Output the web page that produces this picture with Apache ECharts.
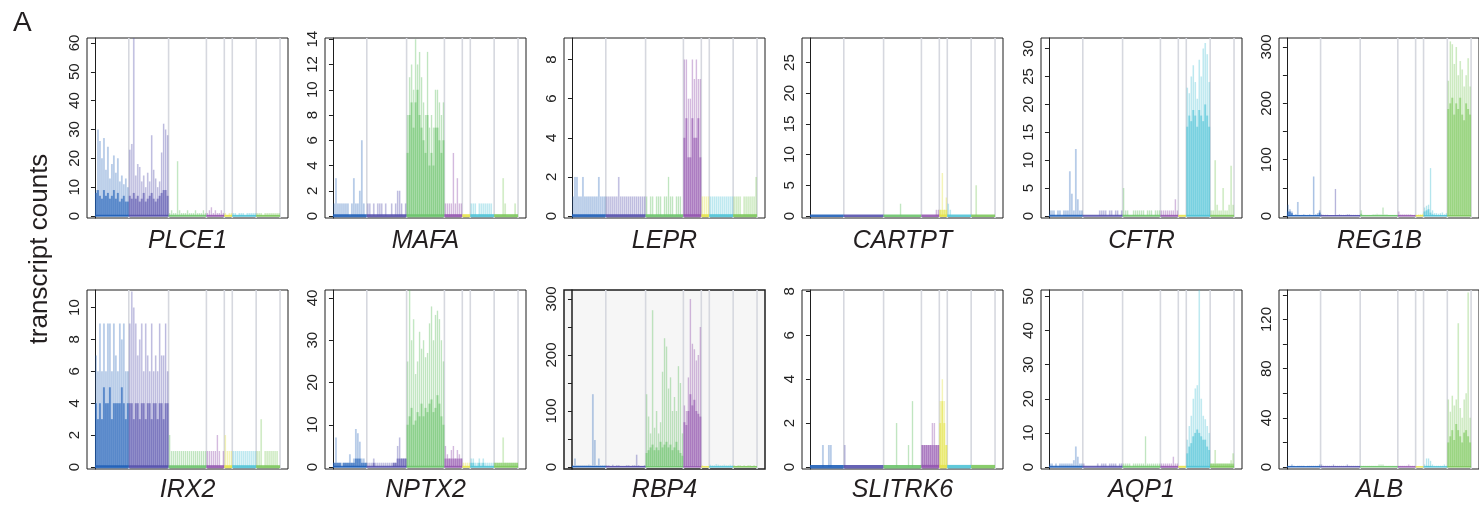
<!DOCTYPE html>
<html>
<head>
<meta charset="utf-8">
<script src="https://cdn.jsdelivr.net/npm/echarts@6/dist/echarts.min.js"></script>
<style>
  html, body { margin: 0; padding: 0; background: #fff; }
  #chart { width: 1479px; height: 506px; }
</style>
</head>
<body>
<div id="chart"></div>
<script>
// cell clusters, left to right (bins per cluster)
const CLUSTER_SIZES = [17, 20, 19, 9, 4, 12, 12];
const CLUSTER_COLORS = ['#1f5fb8', '#5551ad', '#6cc46c', '#9457b0', '#e3e34a', '#4fc3d6', '#7cc85c'];

const GENES = ['PLCE1', 'MAFA', 'LEPR', 'CARTPT', 'CFTR', 'REG1B',
               'IRX2', 'NPTX2', 'RBP4', 'SLITRK6', 'AQP1', 'ALB'];

// top of each panel's y range
const Y_MAX = [61.7, 14.1, 9.1, 29, 31.9, 316, 11.1, 41.9, 316, 8.06, 51.9, 144];

const Y_TICKS = [
  [0, 10, 20, 30, 40, 50, 60], [0, 2, 4, 6, 8, 10, 12, 14], [0, 2, 4, 6, 8],
  [0, 5, 10, 15, 20, 25], [0, 5, 10, 15, 20, 25, 30], [0, 50, 100, 150, 200, 250, 300],
  [0, 2, 4, 6, 8, 10], [0, 10, 20, 30, 40], [0, 50, 100, 150, 200, 250, 300],
  [0, 2, 4, 6, 8], [0, 10, 20, 30, 40, 50], [0, 20, 40, 60, 80, 100, 120, 140]
];
const Y_LABELS = [
  [0, 10, 20, 30, 40, 50, 60], [0, 2, 4, 6, 8, 10, 12, 14], [0, 2, 4, 6, 8],
  [0, 5, 10, 15, 20, 25], [0, 5, 10, 15, 20, 25, 30], [0, 100, 200, 300],
  [0, 2, 4, 6, 8, 10], [0, 10, 20, 30, 40], [0, 100, 200, 300],
  [0, 2, 4, 6, 8], [0, 10, 20, 30, 40, 50], [0, 40, 80, 120]
];

// per bin: highest counts (light) and dense level (darker)
const PLCE1_PEAK = [
  9, 30, 26, 20, 27, 16, 24, 13, 18, 21, 15, 20, 12, 14, 11, 13, 10,
  23, 25, 62, 14, 18, 17, 12, 14, 10, 15, 12, 28, 16, 13, 10, 12, 22, 32, 30, 28,
  1, 2, 1, 1, 19, 2, 1, 1, 1, 2, 1, 1, 1, 2, 1, 1, 1, 2, 1,
  1, 2, 3, 1, 2, 1, 1, 2, 1,
  1, 0, 1, 1,
  1, 1, 0, 1, 1, 1, 0, 1, 1, 1, 1, 1,
  1, 1, 1, 0, 1, 1, 1, 1, 1, 1, 1, 1
];
const PLCE1_CORE = [
  8, 9, 7, 6, 9, 7, 8, 6, 7, 9, 6, 8, 5, 6, 7, 5, 5,
  7, 6, 8, 6, 7, 5, 6, 8, 5, 6, 7, 8, 6, 5, 6, 7, 8, 9, 9, 7,
  0, 0, 0, 0, 0, 0, 0, 0, 0, 0, 0, 0, 0, 0, 0, 0, 0, 0, 0,
  0, 0, 0, 0, 0, 0, 0, 0, 0,
  0, 0, 0, 0,
  0, 0, 0, 0, 0, 0, 0, 0, 0, 0, 0, 0,
  0, 0, 0, 0, 0, 0, 0, 0, 0, 0, 0, 0
];
const MAFA_PEAK = [
  1, 3, 1, 1, 1, 1, 1, 1, 0, 1, 3, 1, 1, 2, 6, 1, 0,
  1, 1, 0, 1, 0, 1, 1, 1, 0, 1, 0, 0, 1, 0, 1, 2, 2, 1, 0, 1,
  8, 11, 12, 10, 14, 12, 13, 11, 9, 8, 13, 7, 8, 7, 10, 10, 9, 8, 9,
  1, 1, 1, 1, 5, 1, 3, 1, 1,
  0, 0, 0, 0,
  1, 1, 1, 0, 1, 1, 1, 1, 1, 1, 1, 0,
  0, 0, 0, 0, 3, 1, 0, 0, 0, 0, 1, 0
];
const MAFA_CORE = [
  0, 0, 0, 0, 0, 0, 0, 0, 0, 0, 0, 0, 0, 0, 0, 0, 0,
  0, 0, 0, 0, 0, 0, 0, 0, 0, 0, 0, 0, 0, 0, 0, 0, 0, 0, 0, 0,
  5, 8, 9, 7, 9, 10, 8, 7, 6, 5, 8, 4, 5, 4, 7, 7, 6, 5, 6,
  0, 0, 0, 0, 0, 0, 0, 0, 0,
  0, 0, 0, 0,
  0, 0, 0, 0, 0, 0, 0, 0, 0, 0, 0, 0,
  0, 0, 0, 0, 0, 0, 0, 0, 0, 0, 0, 0
];
const LEPR_PEAK = [
  1, 2, 2, 1, 1, 2, 1, 1, 1, 1, 1, 1, 1, 2, 1, 1, 1,
  1, 1, 1, 1, 1, 1, 2, 1, 1, 1, 1, 1, 1, 1, 1, 1, 1, 1, 1, 1,
  1, 0, 1, 1, 0, 1, 1, 1, 0, 1, 1, 2, 1, 1, 0, 1, 1, 1, 0,
  8, 8, 6, 6, 8, 7, 8, 7, 7,
  1, 1, 1, 1,
  1, 1, 1, 1, 1, 1, 1, 1, 1, 1, 1, 1,
  1, 1, 1, 1, 0, 1, 1, 1, 1, 1, 1, 2
];
const LEPR_CORE = [
  0, 0, 0, 0, 0, 0, 0, 0, 0, 0, 0, 0, 0, 0, 0, 0, 0,
  0, 0, 0, 0, 0, 0, 0, 0, 0, 0, 0, 0, 0, 0, 0, 0, 0, 0, 0, 0,
  0, 0, 0, 0, 0, 0, 0, 0, 0, 0, 0, 0, 0, 0, 0, 0, 0, 0, 0,
  4, 5, 3, 3, 5, 4, 4, 5, 3,
  0, 0, 0, 0,
  0, 0, 0, 0, 0, 0, 0, 0, 0, 0, 0, 0,
  0, 0, 0, 0, 0, 0, 0, 0, 0, 0, 0, 0
];
const CARTPT_PEAK = [
  0, 0, 0, 0, 0, 0, 0, 0, 0, 0, 0, 0, 0, 0, 0, 0, 0,
  0, 0, 0, 0, 0, 0, 0, 0, 0, 0, 0, 0, 0, 0, 0, 0, 0, 0, 0, 0,
  0, 0, 0, 0, 0, 0, 0, 0, 2, 0, 0, 0, 0, 0, 0, 0, 0, 0, 0,
  0, 0, 0, 0, 0, 0, 0, 1, 1,
  1, 7, 1, 3,
  2, 1, 0, 0, 0, 0, 0, 0, 0, 0, 0, 0,
  0, 0, 5, 0, 0, 0, 0, 0, 0, 0, 0, 0
];
const CARTPT_CORE = [
  0, 0, 0, 0, 0, 0, 0, 0, 0, 0, 0, 0, 0, 0, 0, 0, 0,
  0, 0, 0, 0, 0, 0, 0, 0, 0, 0, 0, 0, 0, 0, 0, 0, 0, 0, 0, 0,
  0, 0, 0, 0, 0, 0, 0, 0, 0, 0, 0, 0, 0, 0, 0, 0, 0, 0, 0,
  0, 0, 0, 0, 0, 0, 0, 0, 0,
  1, 1, 1, 1,
  0, 0, 0, 0, 0, 0, 0, 0, 0, 0, 0, 0,
  0, 0, 0, 0, 0, 0, 0, 0, 0, 0, 0, 0
];
const CFTR_PEAK = [
  1, 1, 1, 0, 1, 1, 0, 1, 1, 1, 8, 4, 1, 12, 3, 1, 1,
  0, 0, 0, 0, 0, 0, 0, 0, 1, 1, 1, 1, 0, 1, 1, 0, 1, 1, 0, 1,
  5, 1, 1, 0, 0, 1, 1, 1, 1, 1, 1, 0, 1, 1, 1, 0, 1, 1, 1,
  1, 1, 1, 1, 1, 1, 1, 3, 1,
  0, 0, 0, 0,
  23, 22, 25, 27, 24, 21, 28, 25, 30, 31, 29, 24,
  1, 1, 10, 2, 1, 1, 5, 1, 1, 2, 9, 2
];
const CFTR_CORE = [
  0, 0, 0, 0, 0, 0, 0, 0, 0, 0, 0, 0, 0, 0, 0, 0, 0,
  0, 0, 0, 0, 0, 0, 0, 0, 0, 0, 0, 0, 0, 0, 0, 0, 0, 0, 0, 0,
  0, 0, 0, 0, 0, 0, 0, 0, 0, 0, 0, 0, 0, 0, 0, 0, 0, 0, 0,
  0, 0, 0, 0, 0, 0, 0, 0, 0,
  0, 0, 0, 0,
  16, 18, 17, 19, 18, 16, 19, 18, 17, 20, 18, 16,
  0, 0, 0, 0, 0, 0, 0, 0, 0, 0, 0, 0
];
const REG1B_PEAK = [
  20, 12, 8, 2, 3, 25, 2, 2, 3, 2, 2, 3, 2, 70, 3, 5, 10,
  3, 2, 2, 2, 1, 1, 1, 48, 2, 3, 2, 2, 2, 3, 3, 2, 2, 2, 2, 2,
  10, 2, 2, 2, 2, 2, 3, 3, 4, 3, 3, 15, 3, 3, 2, 2, 2, 2, 2,
  8, 3, 3, 3, 3, 3, 3, 2, 2,
  2, 3, 3, 4,
  15, 18, 20, 85, 10, 5, 5, 4, 5, 6, 3, 5,
  240, 310, 305, 270, 300, 250, 275, 260, 230, 250, 280, 230
];
const REG1B_CORE = [
  8, 8, 5, 1, 1, 1, 1, 1, 1, 1, 1, 1, 1, 1, 1, 2, 6,
  1, 1, 1, 1, 1, 1, 1, 1, 1, 1, 1, 1, 1, 1, 1, 1, 1, 1, 1, 1,
  4, 1, 1, 1, 1, 1, 1, 1, 1, 1, 1, 2, 1, 1, 1, 1, 1, 1, 1,
  2, 1, 1, 1, 1, 1, 1, 1, 1,
  1, 1, 1, 1,
  8, 10, 12, 6, 3, 2, 2, 1, 2, 1, 1, 2,
  190, 200, 210, 180, 200, 190, 210, 180, 170, 200, 190, 180
];
const IRX2_PEAK = [
  7, 6, 9, 6, 9, 6, 9, 9, 6, 9, 7, 6, 9, 8, 9, 6, 6,
  9, 11, 10, 9, 7, 8, 9, 6, 9, 7, 6, 9, 6, 7, 6, 9, 7, 7, 9, 6,
  2, 1, 1, 1, 1, 1, 1, 1, 1, 1, 1, 1, 1, 1, 1, 1, 1, 1, 1,
  1, 1, 1, 1, 1, 2, 1, 0, 1,
  2, 1, 1, 1,
  1, 1, 1, 1, 1, 1, 1, 1, 1, 1, 1, 1,
  1, 1, 3, 0, 1, 1, 1, 1, 1, 1, 1, 0
];
const IRX2_CORE = [
  4, 3, 4, 3, 5, 4, 4, 5, 3, 4, 4, 4, 4, 5, 4, 3, 4,
  4, 4, 3, 4, 4, 3, 4, 4, 3, 4, 4, 3, 4, 4, 3, 4, 4, 3, 4, 4,
  0, 0, 0, 0, 0, 0, 0, 0, 0, 0, 0, 0, 0, 0, 0, 0, 0, 0, 0,
  0, 0, 0, 0, 0, 0, 0, 0, 0,
  0, 0, 0, 0,
  0, 0, 0, 0, 0, 0, 0, 0, 0, 0, 0, 0,
  0, 0, 0, 0, 0, 0, 0, 0, 0, 0, 0, 0
];
const NPTX2_PEAK = [
  1, 7, 1, 1, 1, 1, 1, 1, 3, 1, 2, 9, 8, 6, 2, 2, 1,
  1, 1, 1, 2, 1, 1, 1, 1, 1, 1, 1, 1, 1, 1, 1, 5, 7, 2, 2, 2,
  25, 42, 30, 35, 22, 25, 32, 28, 30, 26, 27, 34, 38, 30, 36, 37, 35, 30, 25,
  5, 3, 2, 4, 5, 2, 4, 3, 2,
  1, 1, 1, 1,
  2, 2, 1, 1, 2, 1, 2, 1, 1, 1, 1, 1,
  1, 1, 1, 1, 7, 1, 1, 1, 1, 1, 1, 1
];
const NPTX2_CORE = [
  1, 1, 1, 1, 0, 1, 1, 1, 1, 1, 1, 2, 2, 2, 1, 1, 1,
  0, 0, 0, 1, 0, 0, 0, 0, 0, 0, 0, 0, 0, 1, 1, 2, 2, 2, 2, 2,
  10, 12, 14, 10, 11, 13, 12, 15, 12, 14, 13, 15, 16, 13, 14, 17, 15, 12, 10,
  2, 2, 2, 2, 2, 2, 2, 2, 2,
  0, 0, 0, 0,
  1, 1, 0, 0, 1, 0, 1, 0, 0, 0, 0, 0,
  1, 1, 1, 1, 1, 1, 1, 1, 1, 1, 1, 1
];
const RBP4_PEAK = [
  3, 15, 3, 3, 3, 3, 3, 3, 4, 3, 130, 48, 3, 15, 3, 3, 3,
  3, 3, 2, 4, 2, 3, 3, 2, 2, 2, 3, 3, 2, 3, 3, 22, 3, 2, 2, 3,
  130, 90, 60, 280, 70, 100, 60, 80, 170, 230, 215, 140, 160, 100, 125, 100, 180, 150, 60,
  110, 100, 160, 300, 220, 210, 190, 200, 250,
  3, 2, 2, 2,
  4, 3, 3, 5, 4, 3, 3, 4, 3, 3, 4, 3,
  3, 2, 3, 3, 2, 3, 2, 3, 3, 2, 3, 2
];
const RBP4_CORE = [
  2, 2, 2, 2, 2, 2, 2, 2, 2, 2, 2, 2, 2, 2, 2, 2, 2,
  2, 2, 2, 2, 2, 2, 2, 2, 2, 2, 2, 2, 2, 2, 2, 2, 2, 2, 2, 2,
  25, 30, 35, 40, 30, 35, 30, 45, 35, 40, 45, 35, 40, 30, 35, 45, 30, 25, 20,
  80, 75, 100, 130, 110, 120, 100, 95, 90,
  0, 0, 0, 0,
  1, 1, 1, 1, 1, 1, 1, 1, 1, 1, 1, 1,
  1, 1, 1, 1, 1, 1, 1, 1, 1, 1, 1, 1
];
const SLITRK6_PEAK = [
  0, 0, 0, 0, 0, 0, 1, 0, 0, 1, 1, 0, 0, 0, 0, 0, 0,
  1, 0, 0, 0, 0, 0, 0, 0, 0, 0, 0, 0, 0, 0, 0, 0, 0, 0, 0, 0,
  0, 0, 0, 0, 0, 0, 2, 0, 0, 0, 0, 0, 1, 0, 3, 0, 0, 0, 0,
  1, 1, 1, 1, 1, 2, 2, 1, 1,
  3, 4, 3, 1,
  0, 0, 0, 0, 0, 0, 0, 0, 0, 0, 0, 0,
  0, 0, 0, 0, 0, 0, 0, 0, 0, 0, 0, 0
];
const SLITRK6_CORE = [
  0, 0, 0, 0, 0, 0, 0, 0, 0, 0, 0, 0, 0, 0, 0, 0, 0,
  0, 0, 0, 0, 0, 0, 0, 0, 0, 0, 0, 0, 0, 0, 0, 0, 0, 0, 0, 0,
  0, 0, 0, 0, 0, 0, 0, 0, 0, 0, 0, 0, 0, 0, 0, 0, 0, 0, 0,
  1, 1, 1, 1, 1, 1, 1, 1, 1,
  2, 3, 2, 1,
  0, 0, 0, 0, 0, 0, 0, 0, 0, 0, 0, 0,
  0, 0, 0, 0, 0, 0, 0, 0, 0, 0, 0, 0
];
const AQP1_PEAK = [
  1, 1, 0, 1, 0, 1, 1, 1, 1, 1, 1, 1, 2, 6, 3, 1, 1,
  1, 0, 0, 0, 0, 0, 0, 1, 0, 1, 1, 1, 0, 1, 1, 1, 1, 0, 1, 1,
  1, 1, 1, 1, 0, 1, 1, 1, 1, 1, 1, 9, 1, 1, 1, 1, 1, 1, 1,
  1, 1, 1, 1, 1, 1, 3, 1, 1,
  0, 0, 0, 0,
  8, 12, 15, 20, 23, 24, 52, 20, 15, 14, 12, 10,
  1, 1, 5, 1, 1, 1, 1, 1, 1, 1, 2, 4
];
const AQP1_CORE = [
  0, 0, 0, 0, 0, 0, 0, 0, 0, 0, 0, 0, 0, 0, 0, 0, 0,
  0, 0, 0, 0, 0, 0, 0, 0, 0, 0, 0, 0, 0, 0, 0, 0, 0, 0, 0, 0,
  0, 0, 0, 0, 0, 0, 0, 0, 0, 0, 0, 0, 0, 0, 0, 0, 0, 0, 0,
  0, 0, 0, 0, 0, 0, 0, 0, 0,
  0, 0, 0, 0,
  4, 6, 7, 9, 10, 11, 10, 9, 8, 8, 6, 5,
  1, 1, 1, 1, 1, 1, 1, 1, 1, 1, 1, 1
];
const ALB_PEAK = [
  1, 1, 2, 1, 0, 1, 1, 1, 1, 0, 1, 1, 1, 1, 1, 1, 2,
  2, 1, 1, 1, 1, 1, 2, 1, 1, 1, 1, 1, 1, 2, 1, 1, 1, 1, 1, 1,
  1, 1, 1, 1, 1, 1, 1, 1, 1, 2, 2, 2, 1, 1, 1, 1, 1, 1, 1,
  1, 1, 1, 1, 1, 2, 1, 1, 1,
  0, 0, 0, 0,
  2, 7, 7, 5, 2, 1, 1, 1, 1, 1, 2, 1,
  55, 45, 58, 50, 55, 117, 48, 40, 55, 60, 142, 40
];
const ALB_CORE = [
  0, 0, 0, 0, 0, 0, 0, 0, 0, 0, 0, 0, 0, 0, 0, 0, 0,
  0, 0, 0, 0, 0, 0, 0, 0, 0, 0, 0, 0, 0, 0, 0, 0, 0, 0, 0, 0,
  0, 0, 0, 0, 0, 0, 0, 0, 0, 0, 0, 0, 0, 0, 0, 0, 0, 0, 0,
  0, 0, 0, 0, 0, 0, 0, 0, 0,
  0, 0, 0, 0,
  0, 1, 1, 1, 0, 0, 0, 0, 0, 0, 0, 0,
  20, 25, 30, 22, 35, 30, 25, 20, 28, 30, 25, 20
];

const PEAKS = [PLCE1_PEAK, MAFA_PEAK, LEPR_PEAK, CARTPT_PEAK, CFTR_PEAK, REG1B_PEAK,
               IRX2_PEAK, NPTX2_PEAK, RBP4_PEAK, SLITRK6_PEAK, AQP1_PEAK, ALB_PEAK];
const CORES = [PLCE1_CORE, MAFA_CORE, LEPR_CORE, CARTPT_CORE, CFTR_CORE, REG1B_CORE,
               IRX2_CORE, NPTX2_CORE, RBP4_CORE, SLITRK6_CORE, AQP1_CORE, ALB_CORE];

// layout
const COL_LEFT = [87, 325, 564, 802, 1041, 1279];
const PANEL_W = 201;
const ROW_TOP = [38, 290];
const ROW_H = [180, 179];
const LABEL_Y = [241, 490];
const ZERO_GAP = 2;
const STRIP_PX = [2, 3, 3, 2.5, 2, 1.5, 3, 2, 1.5, 3.5, 2, 1.5];
const FONT = '"Liberation Sans", Arial, Helvetica, sans-serif';

const nBins = CLUSTER_SIZES.reduce((a, b) => a + b, 0);
const clusterOf = [];
const bounds = [];
let acc = 0;
CLUSTER_SIZES.forEach((n, c) => {
  for (let i = 0; i < n; i++) clusterOf.push(c);
  bounds.push([acc, acc + n, c]);
  acc += n;
});

const chart = echarts.init(document.getElementById('chart'));

// thin: draw as a 1px streak instead of filling the whole bin
function barSeries(k, values, opacity, z, thin) {
  const top = Y_MAX[k];
  return {
    type: 'custom',
    xAxisIndex: k,
    yAxisIndex: k,
    z: z,
    silent: true,
    data: values.map((v, i) => [i, v, clusterOf[i]]),
    renderItem: (params, api) => {
      const i = api.value(0);
      const v = api.value(1);
      if (!(v > 0)) return;
      const p0 = api.coord([i, 0]);
      const p1 = api.coord([i + 1, Math.min(v, top)]);
      const w = p1[0] - p0[0];
      return {
        type: 'rect',
        shape: {
          x: thin ? p0[0] + w * 0.25 : p0[0],
          y: p1[1],
          width: thin ? w * 0.55 : w,
          height: p0[1] - p1[1]
        },
        style: { fill: CLUSTER_COLORS[api.value(2)], opacity: opacity }
      };
    }
  };
}

const option = {
  animation: false,
  grid: [],
  xAxis: [],
  yAxis: [],
  series: [],
  graphic: [
    { type: 'text', left: 13, top: 9, style: { text: 'A', fontSize: 28, fontFamily: FONT, fill: '#231f20' } },
    {
      type: 'text', x: 40, y: 249, rotation: Math.PI / 2,
      style: { text: 'transcript counts', fontSize: 26, fontFamily: FONT, fill: '#231f20',
               textAlign: 'center', textVerticalAlign: 'middle' }
    }
  ]
};

GENES.forEach((gene, k) => {
  if (PEAKS[k].length !== nBins || CORES[k].length !== nBins) {
    console.error('bad length', gene, PEAKS[k].length, CORES[k].length);
  }
  const col = k % 6;
  const row = Math.floor(k / 6);
  const left = COL_LEFT[col];
  const top = ROW_TOP[row];
  const h = ROW_H[row];
  const yMax = Y_MAX[k];
  const yMin = -ZERO_GAP * yMax / (h - ZERO_GAP);
  const shaded = gene === 'RBP4';

  option.grid.push({
    left: left, top: top, width: PANEL_W, height: h,
    show: true,
    borderColor: '#1e1e1e',
    borderWidth: shaded ? 1.5 : 1,
    backgroundColor: shaded ? '#f6f6f6' : 'transparent'
  });
  option.xAxis.push({ type: 'value', gridIndex: k, min: -4, max: nBins + 4, show: false });
  option.yAxis.push({
    type: 'value',
    gridIndex: k,
    min: yMin,
    max: yMax,
    axisLine: { show: true, lineStyle: { color: '#1e1e1e', width: shaded ? 1.5 : 1 } },
    axisTick: { show: true, length: 4, customValues: Y_TICKS[k], lineStyle: { color: '#1e1e1e' } },
    axisLabel: {
      customValues: Y_LABELS[k], rotate: 90, margin: 5,
      fontSize: 15, fontFamily: FONT, color: '#222'
    },
    splitLine: { show: false }
  });

  // cluster separators
  option.series.push({
    type: 'custom',
    xAxisIndex: k,
    yAxisIndex: k,
    z: 1,
    silent: true,
    data: bounds.map(b => [b[1]]),
    renderItem: (params, api) => {
      const x = api.coord([api.value(0), 0])[0];
      const cs = params.coordSys;
      return {
        type: 'line',
        shape: { x1: x, y1: cs.y, x2: x, y2: cs.y + cs.height },
        style: { stroke: '#d6d8df', lineWidth: 1.6 }
      };
    }
  });

  option.series.push(barSeries(k, PEAKS[k], 0.12, 2, false));
  option.series.push(barSeries(k, PEAKS[k], 0.35, 3, true));
  option.series.push(barSeries(k, CORES[k], 0.62, 4, false));

  // colored baseline strip per cluster
  const stripPx = STRIP_PX[k];
  option.series.push({
    type: 'custom',
    xAxisIndex: k,
    yAxisIndex: k,
    z: 5,
    silent: true,
    data: bounds,
    renderItem: (params, api) => {
      const p0 = api.coord([api.value(0), 0]);
      const p1 = api.coord([api.value(1), 0]);
      return {
        type: 'rect',
        shape: { x: p0[0], y: p0[1] - stripPx * 0.6, width: p1[0] - p0[0], height: stripPx },
        style: { fill: CLUSTER_COLORS[api.value(2)], opacity: 0.9 }
      };
    }
  });

  option.graphic.push({
    type: 'text',
    x: left + PANEL_W / 2,
    y: LABEL_Y[row],
    style: {
      text: gene, fontSize: 25, fontStyle: 'italic', fontFamily: FONT, fill: '#231f20',
      textAlign: 'center', textVerticalAlign: 'middle'
    }
  });
});

chart.setOption(option);
</script>
</body>
</html>
